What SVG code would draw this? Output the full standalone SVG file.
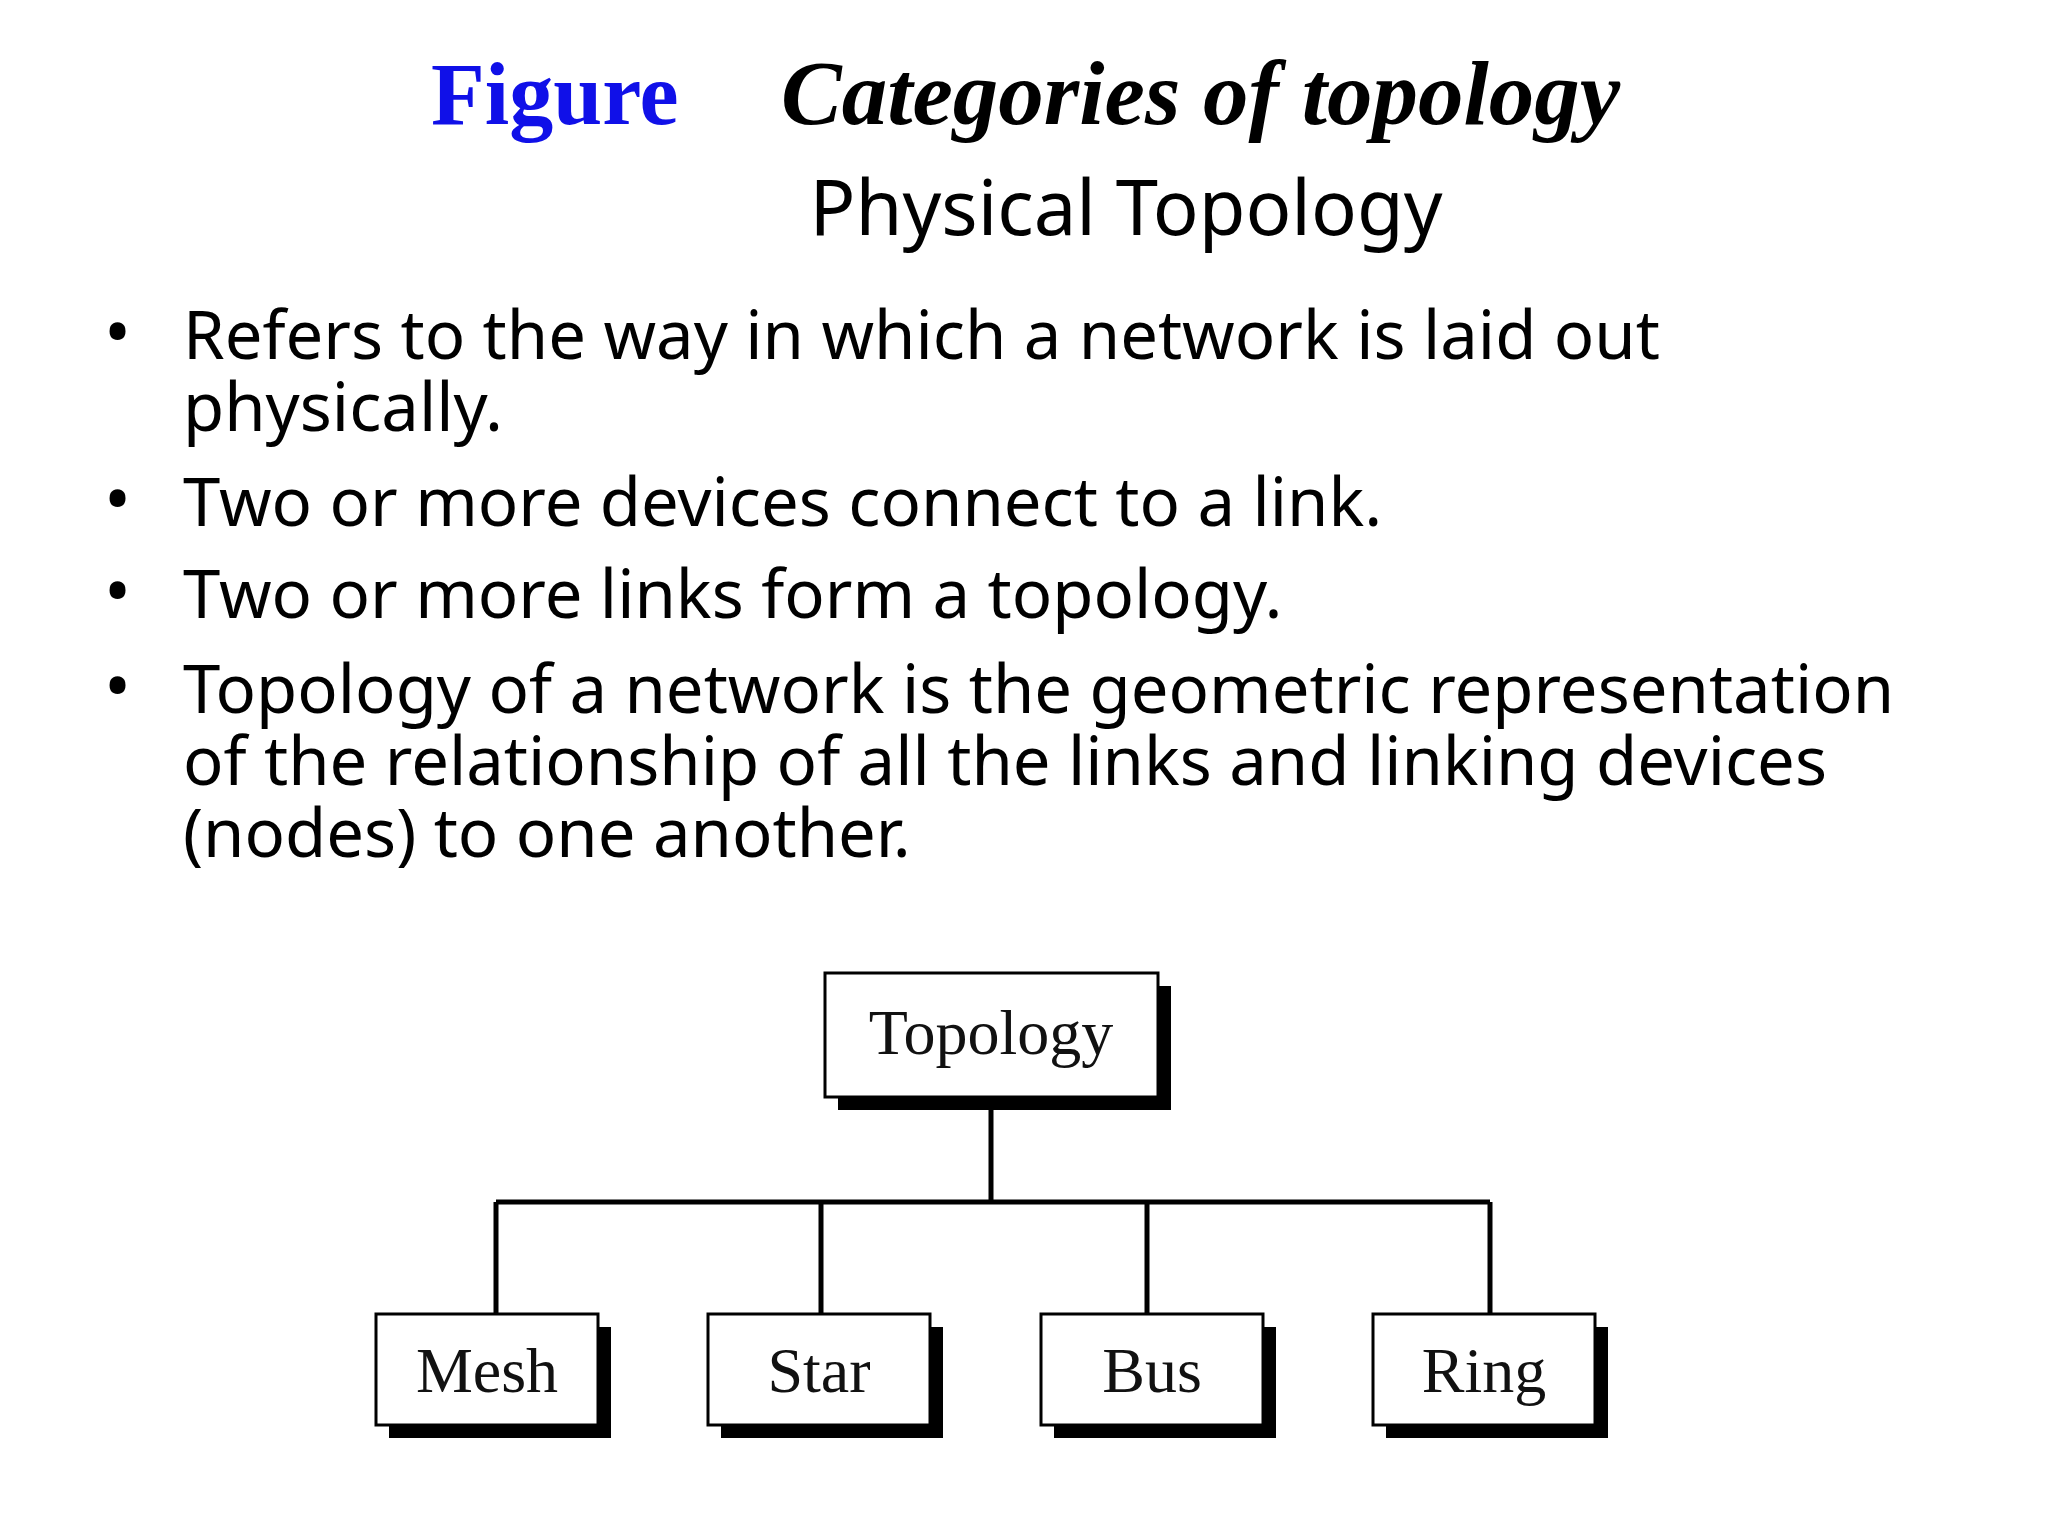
<svg xmlns="http://www.w3.org/2000/svg" width="2048" height="1536" viewBox="0 0 2048 1536">
<style>
.b{font-family:"Noto Sans","Open Sans",sans-serif;font-size:67px;fill:#000}
.d{font-family:"Noto Sans","Open Sans",sans-serif;font-size:72px;fill:#000}
.t{font-family:"Noto Sans","Open Sans",sans-serif;font-size:76px;fill:#000;text-anchor:middle}
.n{font-family:"Liberation Serif",serif;font-size:64px;fill:#111;text-anchor:middle}
.box{fill:#fff;stroke:#000;stroke-width:3}
.sh{fill:#000}
.c{stroke:#000;stroke-width:5;fill:none}
</style>
<rect width="2048" height="1536" fill="#fff"/>
<text x="431" y="124" font-family="Liberation Serif,serif" font-weight="bold" font-size="88" fill="#1010e8">Figure</text>
<text x="781" y="124" font-family="Liberation Serif,serif" font-weight="bold" font-style="italic" font-size="91" fill="#000">Categories of topology</text>
<text x="1126" y="235" class="t">Physical Topology</text>
<g class="d">
<text x="104" y="357">•</text>
<text x="104" y="524">•</text>
<text x="104" y="616">•</text>
<text x="104" y="711">•</text>
</g>
<g class="b">
<text x="183" y="359">Refers to the way in which a network is laid out</text>
<text x="183" y="431">physically.</text>
<text x="183" y="526">Two or more devices connect to a link.</text>
<text x="183" y="618">Two or more links form a topology.</text>
<text x="183" y="713">Topology of a network is the geometric representation</text>
<text x="183" y="785">of the relationship of all the links and linking devices</text>
<text x="183" y="857">(nodes) to one another.</text>
</g>
<g id="connectors">
<path class="c" d="M991 1097V1202M496 1202H1490M496 1202V1314M821 1202V1314M1147 1202V1314M1490 1202V1314"/>
</g>
<g id="topology"><rect class="sh" x="838" y="986" width="333" height="124"/><rect class="box" x="825" y="973" width="333" height="124"/><text class="n" x="991" y="1054">Topology</text></g>
<g id="mesh"><rect class="sh" x="389" y="1327" width="222" height="111"/><rect class="box" x="376" y="1314" width="222" height="111"/><text class="n" x="487" y="1392">Mesh</text></g>
<g id="star"><rect class="sh" x="721" y="1327" width="222" height="111"/><rect class="box" x="708" y="1314" width="222" height="111"/><text class="n" x="819" y="1392">Star</text></g>
<g id="bus"><rect class="sh" x="1054" y="1327" width="222" height="111"/><rect class="box" x="1041" y="1314" width="222" height="111"/><text class="n" x="1152" y="1392">Bus</text></g>
<g id="ring"><rect class="sh" x="1386" y="1327" width="222" height="111"/><rect class="box" x="1373" y="1314" width="222" height="111"/><text class="n" x="1484" y="1392">Ring</text></g>
</svg>
